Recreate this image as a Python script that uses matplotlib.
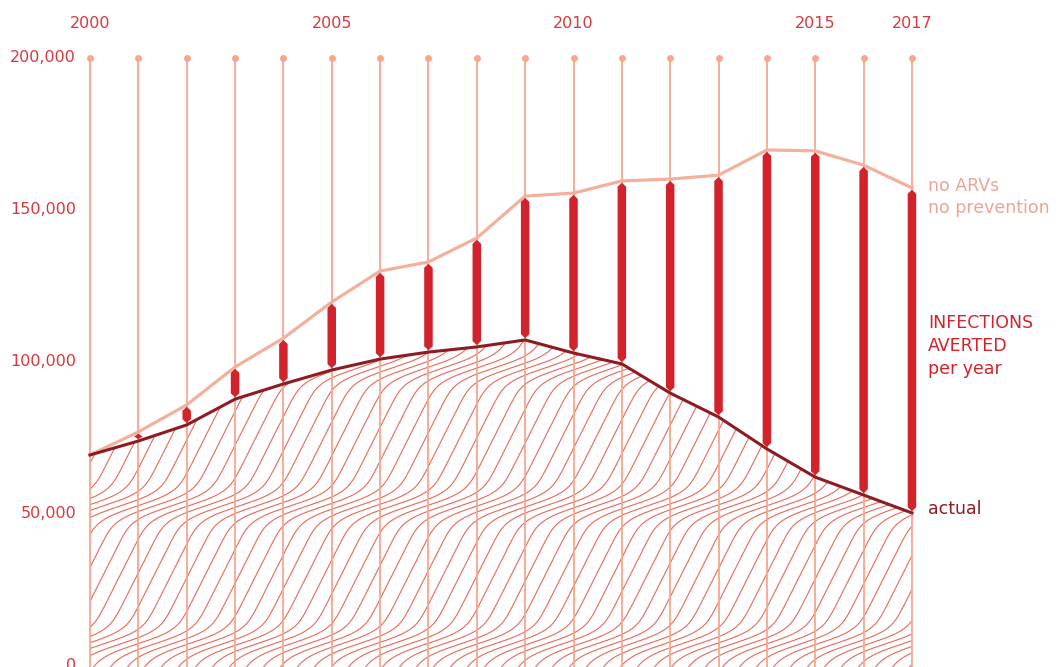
import numpy as np
import matplotlib.pyplot as plt
from matplotlib.patches import Polygon
from matplotlib.path import Path
from matplotlib.patches import PathPatch

# data (thousands of new infections per year)
years = np.arange(2000, 2018)
no_arvs = [69.2, 76.8, 85.7, 98.2, 107.7, 119.6, 129.8, 132.8, 140.7, 154.5,
           155.5, 159.5, 160.1, 161.4, 169.7, 169.4, 164.7, 157.2]
actual = [69.2, 73.8, 79.1, 87.6, 92.6, 97.2, 100.8, 103.1, 104.8, 107.1,
          102.8, 99.2, 89.6, 81.7, 71.2, 61.9, 56.0, 50.1]
ytick_vals = [0, 50, 100, 150, 200]
ytick_labels = ['0', '50,000', '100,000', '150,000', '200,000']
year_labels = [2000, 2005, 2010, 2015, 2017]

RED = '#d2232c'
LABEL_RED = '#d6393f'
SALMON = '#f6a88f'
LIGHT = '#f3b09c'
DARK = '#8c1b22'
WAVE = '#e8695c'

# pixel scale: 2000 -> x=90px, 1 yr = 48.35px ; 0 -> y=665px, 1k = 3.035px
PX_YR = 48.35
PX_K = 3.035

fig = plt.figure(figsize=(10.64, 6.67), dpi=100)
ax = fig.add_axes([0, 0, 1, 1])
ax.set_xlim(2000 - 90 / PX_YR, 2000 + 974 / PX_YR)
ax.set_ylim((665 - 667) / PX_K, 665 / PX_K)
ax.axis('off')

ybot = (665 - 667) / PX_K

# area under the actual line, used as clip for the wave pattern
verts = [(years[0], ybot)] + list(zip(years, actual)) + [(years[-1], ybot), (years[0], ybot)]
codes = [Path.MOVETO] + [Path.LINETO] * (len(verts) - 2) + [Path.CLOSEPOLY]
clip = PathPatch(Path(verts, codes), facecolor='none', edgecolor='none')
ax.add_patch(clip)

# wavy line pattern: horizontal translates of one S-curve x = h(y), in pixels
P = 138.0      # vertical period (px)
yb = 21.0      # height of the flat band (px above zero line)
c0, c1, kap = 0.5, 2.5, 4.5
u_px = np.linspace(-4, 345, 1500)
dh = c0 + c1 * np.exp(kap * (np.cos(2 * np.pi * (u_px - yb) / P) - 1))
h_px = np.concatenate([[0], np.cumsum(0.5 * (dh[1:] + dh[:-1]) * np.diff(u_px))])
h = h_px / PX_YR
u = u_px / PX_K
dx = 17 / PX_YR
for x0 in np.arange(2000 - h.max() - 1, 2018, dx):
    ln, = ax.plot(x0 + h, u, color=WAVE, lw=0.8, zorder=1)
    ln.set_clip_path(clip)

# vertical year lines with dots on top
for yr in years:
    ax.plot([yr, yr], [ybot, 200], color=SALMON, lw=1.3, zorder=2)
ax.plot(years, [200] * len(years), 'o', color=SALMON, ms=4, zorder=2)

# lines
ax.plot(years, no_arvs, color=LIGHT, lw=2.3, zorder=3)
ax.plot(years, actual, color=DARK, lw=2.2, zorder=4)

# averted bars with pointed ends
w = 8.5 / PX_YR
tip = 4 / PX_K
gap = 0.6
for yr, top, bot in zip(years, no_arvs, actual):
    t = top - gap
    b = bot + gap
    if t - b <= 0:
        continue
    if t - b < 2 * tip:
        mid = (t + b) / 2
        pts = [(yr, b), (yr + w / 2, mid), (yr, t), (yr - w / 2, mid)]
    else:
        pts = [(yr, b), (yr + w / 2, b + tip), (yr + w / 2, t - tip),
               (yr, t), (yr - w / 2, t - tip), (yr - w / 2, b + tip)]
    ax.add_patch(Polygon(pts, closed=True, facecolor=RED, edgecolor='none', zorder=5))

# axis labels
for v, lab in zip(ytick_vals, ytick_labels):
    ax.text(2000 - 14 / PX_YR, v, lab, ha='right', va='center', fontsize=11.5,
            color=LABEL_RED, clip_on=False)
for yr in year_labels:
    ax.text(yr, (665 - 23) / PX_K, str(yr), ha='center', va='center', fontsize=11.5,
            color=LABEL_RED)

# right side labels
xl = 2000 + 838 / PX_YR
fs = 12.5
ax.text(xl, (665 - 186) / PX_K, 'no ARVs', ha='left', va='center', fontsize=fs, color='#eaa596')
ax.text(xl, (665 - 208) / PX_K, 'no prevention', ha='left', va='center', fontsize=fs, color='#eaa596')
ax.text(xl, (665 - 323) / PX_K, 'INFECTIONS', ha='left', va='center', fontsize=fs, color=RED)
ax.text(xl, (665 - 346) / PX_K, 'AVERTED', ha='left', va='center', fontsize=fs, color=RED)
ax.text(xl, (665 - 369) / PX_K, 'per year', ha='left', va='center', fontsize=fs, color=RED)
ax.text(xl, (665 - 509) / PX_K, 'actual', ha='left', va='center', fontsize=fs, color=DARK)

fig.savefig('out.png', dpi=100)
